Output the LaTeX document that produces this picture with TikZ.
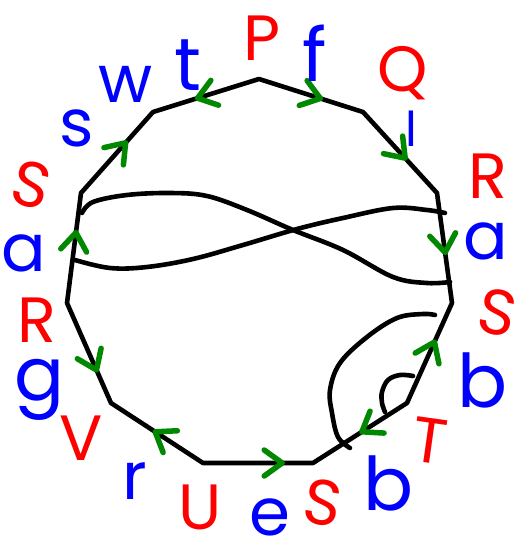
\documentclass[tikz,border=0pt]{standalone}
\usepackage{fontspec}
\setmainfont{Poppins}
\usetikzlibrary{decorations.markings}
\definecolor{hred}{RGB}{255,0,0}
\definecolor{hblue}{RGB}{0,0,255}
\definecolor{hgreen}{RGB}{0,136,0}
\begin{document}
\begin{tikzpicture}[x=1pt,y=-1pt,
  edge/.style={line width=4.6pt, line join=round, line cap=round},
  curve/.style={line width=4.6pt, line cap=round},
  garrow/.style={draw=hgreen, line width=5.5pt, line cap=round, line join=round},
  arr/.style={postaction={decorate}, decoration={markings, mark=at position #1 with {\draw[garrow] (-18,13) -- (0,0) -- (-18,-13);}}},
  lab/.style={inner sep=0pt, anchor=center},
  rl/.style={lab, text=hred, font=\fontsize{64}{64}\selectfont},
  bl/.style={lab, text=hblue, font=\fontsize{66}{66}\selectfont},
  bt/.style={lab, text=hblue, font=\fontsize{74}{74}\selectfont}]
\useasboundingbox (0,0) rectangle (520,544);
% polygon vertices
\coordinate (v1) at (259,79);
\coordinate (v2) at (363,112);
\coordinate (v3) at (437,193);
\coordinate (v4) at (452,303);
\coordinate (v5) at (407,403);
\coordinate (v6) at (313,463);
\coordinate (v7) at (203,463);
\coordinate (v8) at (111,403);
\coordinate (v9) at (67,303);
\coordinate (v10) at (81,193);
\coordinate (v11) at (153,112);
\draw[edge] (v1) -- (v2) -- (v3) -- (v4) -- (v5) -- (v6) -- (v7) -- (v8) -- (v9) -- (v10) -- (v11) -- cycle;
% inner curves
\draw[curve] plot[smooth, tension=0.6] coordinates {(82,213) (93,202) (127,195) (170,193) (207,196) (247,210) (293,230) (343,250) (393,277) (427,283) (450,282)};
\draw[curve] plot[smooth, tension=0.6] coordinates {(75,260) (110,268) (147,267) (193,259) (243,245) (297,229) (343,218) (393,208) (427,210) (445,213)};
\draw[curve] plot[smooth, tension=0.6] coordinates {(435,315) (423,314) (397,318) (367,337) (340,363) (330,390) (332,413) (338,437) (350,448)};
\draw[curve] plot[smooth, tension=0.6] coordinates {(413,376) (400,375) (388,380) (382,392) (382,403) (385,412)};
% green arrows
\path[arr=0.59] (v1) -- (v2);
\path[arr=0.57] (v2) -- (v3);
\path[arr=0.54] (v3) -- (v4);
\path[arr=0.61] (v5) -- (v4);
\path[arr=0.48] (v5) -- (v6);
\path[arr=0.72] (v7) -- (v6);
\path[arr=0.52] (v7) -- (v8);
\path[arr=0.67] (v9) -- (v8);
\path[arr=0.64] (v9) -- (v10);
\path[arr=0.62] (v10) -- (v11);
\path[arr=0.58] (v1) -- (v11);
% labels
\node[rl] (lP) at (262,38) {P};
\node[bt] (lf) at (315,53) {f};
\node[rl] (lQ) at (403,73) {Q};
\node[lab, text=hblue, font=\fontsize{48}{48}\selectfont] (ll) at (411,129) {l};
\node[rl] (lR1) at (488,176) {R};
\node[bl] (la1) at (486,241) {a};
\node[rl, rotate=-12] (lS1) at (498,313) {S};
\node[bt] (lb1) at (483,380) {b};
\node[rl, rotate=-8] (lT) at (430,441) {T};
\node[bt] (lb2) at (389,483) {b};
\node[rl, rotate=-10] (lS2) at (323,503) {S};
\node[bl] (le) at (270,517) {e};
\node[rl] (lU) at (200,507) {U};
\node[bl] (lr) at (135,481) {r};
\node[rl] (lV) at (81,438) {V};
\node[bt] (lg) at (40,390) {g};
\node[rl] (lR2) at (37,320) {R};
\node[bl] (la2) at (24,253) {a};
\node[rl, rotate=-15] (lS3) at (31,185) {S};
\node[bl] (ls) at (77,128) {s};
\node[bl] (lw) at (126,84) {w};
\node[bt] (lt) at (188,65) {t};
\end{tikzpicture}
\end{document}
